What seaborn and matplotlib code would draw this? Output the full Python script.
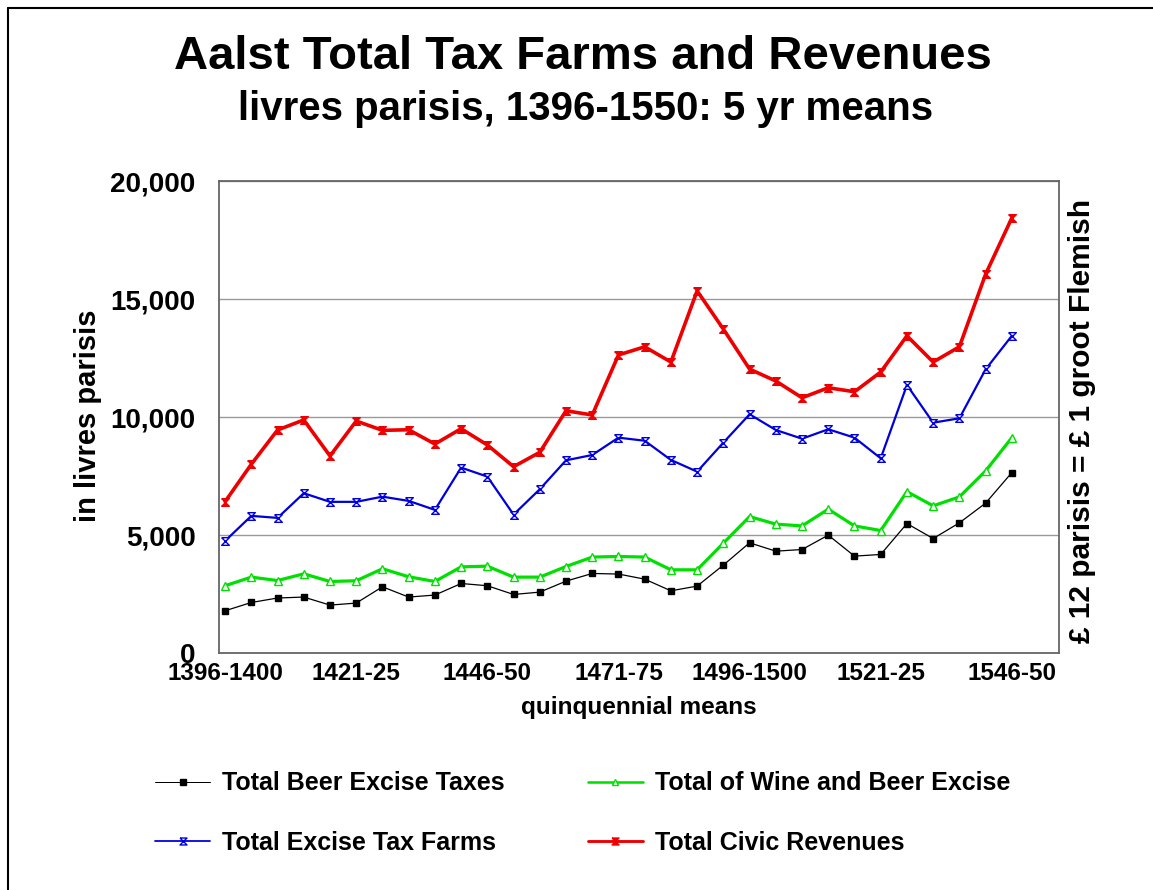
import numpy as np
import pandas as pd
import seaborn as sns
import matplotlib.pyplot as plt
from matplotlib.lines import Line2D


# Quinquennial periods, 1396-1400 .. 1546-50
periods = ['1396-1400', '1401-05', '1406-10', '1411-15', '1416-20', '1421-25', '1426-30',
           '1431-35', '1436-40', '1441-45', '1446-50', '1451-55', '1456-60', '1461-65',
           '1466-70', '1471-75', '1476-80', '1481-85', '1486-90', '1491-95', '1496-1500',
           '1501-05', '1506-10', '1511-15', '1516-20', '1521-25', '1526-30', '1531-35',
           '1536-40', '1541-45', '1546-50']
tick_labels = ['1396-1400', '1421-25', '1446-50', '1471-75', '1496-1500', '1521-25', '1546-50']

beer = [1790, 2140, 2330, 2370, 2030, 2115, 2805, 2370, 2455, 2945, 2850, 2480, 2580, 3045,
        3370, 3345, 3130, 2635, 2835, 3725, 4670, 4315, 4385, 4995, 4105, 4175, 5485, 4850,
        5515, 6350, 7645]
wine_beer = [2850, 3215, 3070, 3355, 3030, 3060, 3570, 3230, 3030, 3650, 3680, 3215, 3215, 3665,
             4065, 4090, 4065, 3525, 3525, 4655, 5780, 5460, 5385, 6095, 5385, 5190, 6840, 6235,
             6615, 7715, 9125]
excise_farms = [4750, 5810, 5725, 6770, 6405, 6405, 6625, 6445, 6065, 7855, 7475, 5865, 6940, 8165,
                8390, 9125, 8995, 8180, 7685, 8915, 10115, 9450, 9080, 9480, 9125, 8250, 11355,
                9760, 9945, 12020, 13440]
civic = [6415, 8000, 9450, 9875, 8350, 9830, 9435, 9460, 8855, 9505, 8815, 7895, 8505, 10265,
         10085, 12630, 12975, 12330, 15345, 13725, 12030, 11525, 10815, 11240, 11070, 11905,
         13440, 12330, 12975, 16050, 18435]

series_names = ['Total Beer Excise Taxes', 'Total of Wine and Beer Excise',
                'Total Excise Tax Farms', 'Total Civic Revenues']

df = pd.DataFrame({'idx': np.arange(len(periods)), 'period': periods,
                   series_names[0]: beer, series_names[1]: wine_beer,
                   series_names[2]: excise_farms, series_names[3]: civic})

sns.set_style('white')
plt.rcParams['font.family'] = ['Liberation Sans', 'DejaVu Sans']
plt.rcParams['font.weight'] = 'bold'
plt.rcParams['text.color'] = 'black'
plt.rcParams['axes.labelcolor'] = 'black'
plt.rcParams['xtick.labelcolor'] = 'black'
plt.rcParams['ytick.labelcolor'] = 'black'

fig = plt.figure(figsize=(11.53, 8.90), dpi=100)
ax = fig.add_axes([0.190, 0.2663, 0.7285, 0.5303])

hourglass = [(-1, 1), (1, 1), (-1, -1), (1, -1), (-1, 1)]

styles = {
    series_names[0]: dict(color='black', lw=0.9, marker='s', ms=4.5, mfc='black'),
    series_names[1]: dict(color='#00e000', lw=2.3, marker='^', ms=5.5, mfc='white'),
    series_names[2]: dict(color='#0000dd', lw=1.6, marker=hourglass, ms=5.5, mfc='white'),
    series_names[3]: dict(color='#ee0000', lw=2.6, marker=hourglass, ms=5.5, mfc='#ee0000'),
}

for name in series_names:
    st = styles[name]
    sns.lineplot(data=df, x='idx', y=name, ax=ax, color=st['color'], linewidth=st['lw'],
                 marker=st['marker'], markersize=st['ms'], markerfacecolor=st['mfc'],
                 markeredgecolor=st['color'], markeredgewidth=1.0, label=name, legend=False)

ax.set_xlim(-0.23, 31.8)
ax.set_ylim(0, 20000)

ax.set_xticks([periods.index(t) for t in tick_labels])
ax.set_xticklabels(tick_labels, fontsize=17.5, fontweight='bold')
ax.set_xticks(np.arange(0, 32, 0.5), minor=True)
ax.tick_params(axis='x', which='both', direction='inout', length=13, width=1, color='#777777', pad=0)

ax.set_yticks(np.arange(0, 20001, 5000))
ax.set_yticklabels([f'{v:,}' for v in range(0, 20001, 5000)], fontsize=20, fontweight='bold')
ax.set_yticks(np.arange(2500, 20000, 5000), minor=True)
ax.tick_params(axis='y', which='major', direction='out', length=10, width=1, color='#777777', pad=7)
ax.tick_params(axis='y', which='minor', direction='inout', length=13, width=1, color='#777777')

ax.yaxis.grid(True, which='major', color='#999999', linewidth=1)
ax.xaxis.grid(False)
for sp in ax.spines.values():
    sp.set_color('#666666')
    sp.set_linewidth(1.3)

ax.set_xlabel('quinquennial means', fontsize=17.5, fontweight='bold', labelpad=8)
ax.set_ylabel('')
fig.text(88 / 1153, 1 - 416 / 890, 'in livres parisis', rotation=90, ha='center', va='center',
         fontsize=21, fontweight='bold')
fig.text(1082 / 1153, 1 - 421 / 890, '£ 12 parisis = £ 1 groot Flemish', rotation=90,
         ha='center', va='center', fontsize=21.5, fontweight='bold')

fig.text(583 / 1153, 1 - 69 / 890, 'Aalst Total Tax Farms and Revenues', ha='center',
         va='baseline', fontsize=34, fontweight='bold')
fig.text(586 / 1153, 1 - 120 / 890, 'livres parisis, 1396-1550: 5 yr means', ha='center',
         va='baseline', fontsize=29, fontweight='bold')

order = [series_names[0], series_names[2], series_names[1], series_names[3]]
leg_handles = []
for name in order:
    st = styles[name]
    leg_handles.append(Line2D([], [], color=st['color'], lw=st['lw'] * 0.8, marker=st['marker'],
                              ms=st['ms'] - 0.5, mfc=st['mfc'], mec=st['color']))
fig.legend(leg_handles, order, ncol=2, loc='center left', bbox_to_anchor=(155 / 1153, 1 - 813 / 890),
           frameon=False, handlelength=2.2, handletextpad=0.5, columnspacing=3.3,
           labelspacing=1.4, borderpad=0, borderaxespad=0, prop={'weight': 'bold', 'size': 18})

# outer frame (left and top edges)
fig.add_artist(Line2D([8 / 1153, 8 / 1153], [0, 1 - 8 / 890], transform=fig.transFigure,
                      color='black', lw=1.5))
fig.add_artist(Line2D([8 / 1153, 1], [1 - 8 / 890, 1 - 8 / 890], transform=fig.transFigure,
                      color='black', lw=1.5))

fig.savefig('out.png', dpi=100)
